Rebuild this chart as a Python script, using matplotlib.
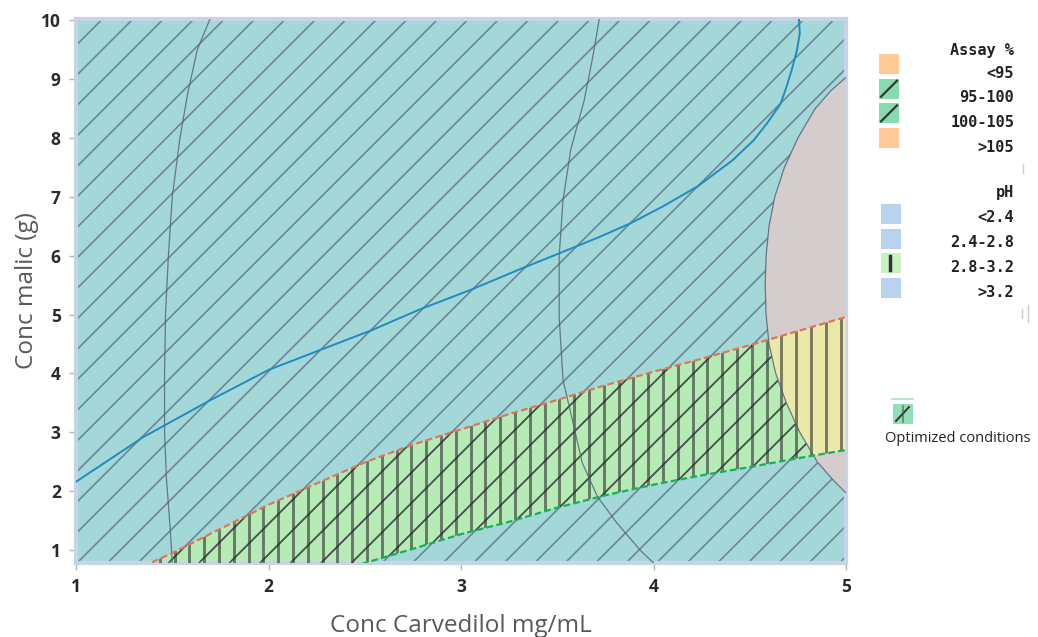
import numpy as np
import matplotlib.pyplot as plt
from matplotlib.patches import Polygon, Rectangle
from matplotlib.collections import LineCollection

# pH 2.8-3.2 band (edges of the design space), malic conc vs carvedilol conc
ph_x = [1.3, 1.5, 1.75, 2.0, 2.25, 2.5, 2.75, 3.0, 3.25, 3.5, 3.75, 4.0, 4.25, 4.5, 4.75, 5.0]
ph_upper = [0.65, 0.95, 1.36, 1.77, 2.13, 2.49, 2.79, 3.05, 3.31, 3.55, 3.80, 4.03, 4.25, 4.48, 4.72, 4.96]
ph_lower = [-0.9, -0.6, -0.25, 0.1, 0.45, 0.78, 1.02, 1.27, 1.48, 1.72, 1.93, 2.11, 2.27, 2.41, 2.56, 2.70]

# assay > 105 region on the right
grey_y = [1.97, 2.2, 2.5, 3.0, 3.5, 4.0, 4.5, 5.0, 5.5, 6.0, 6.5, 7.0, 7.5, 8.0, 8.5, 8.8, 9.03]
grey_x = [5.0, 4.93, 4.85, 4.76, 4.69, 4.635, 4.60, 4.585, 4.58, 4.585, 4.60, 4.63, 4.68, 4.75, 4.84, 4.92, 5.0]

# other contour lines
conA_y = [0.78, 1.34, 2.2, 3.0, 4.0, 5.0, 6.0, 7.0, 8.0, 8.75, 9.5, 10.05]
conA_x = [1.50, 1.49, 1.47, 1.46, 1.46, 1.465, 1.48, 1.50, 1.54, 1.58, 1.63, 1.70]
conB_y = [0.78, 1.0, 1.46, 1.9, 2.48, 3.33, 3.89, 4.96, 6.0, 6.94, 7.8, 8.64, 9.3, 10.05]
conB_x = [4.0, 3.93, 3.81, 3.71, 3.63, 3.57, 3.53, 3.51, 3.51, 3.53, 3.57, 3.64, 3.68, 3.72]
blue_x = [1.0, 1.35, 1.7, 2.0, 2.27, 2.54, 2.78, 3.05, 3.32, 3.51, 3.72, 3.88, 4.05, 4.23,
          4.41, 4.52, 4.59, 4.66, 4.69, 4.72, 4.745, 4.76, 4.755]
blue_y = [2.16, 2.92, 3.55, 4.06, 4.40, 4.74, 5.08, 5.42, 5.79, 6.04, 6.32, 6.55, 6.84, 7.18,
          7.62, 7.96, 8.25, 8.58, 8.86, 9.18, 9.49, 9.78, 10.05]

x_ticks = [1, 2, 3, 4, 5]
y_ticks = [1, 2, 3, 4, 5, 6, 7, 8, 9, 10]

assay_labels = ['<95', '95-100', '100-105', '>105']
ph_labels = ['<2.4', '2.4-2.8', '2.8-3.2', '>3.2']

W, H = 1038, 637
fig = plt.figure(figsize=(W / 100, H / 100), dpi=100)
ax = fig.add_axes([76 / W, (H - 563) / H, 770 / W, 544.5 / H])
xlo, xhi, ylo, yhi = 1.0, 5.0, 0.78, 10.03
ax.set_xlim(xlo, xhi)
ax.set_ylim(ylo, yhi)
ax.set_facecolor('#a4d8d8')

grey_pts = list(zip(grey_x, grey_y)) + [(5.3, 9.03), (5.3, 1.97)]

# pH band (green), drawn under the diagonal hatch
band_pts = list(zip(ph_x, ph_upper)) + list(zip(ph_x[::-1], ph_lower[::-1]))
band = Polygon(band_pts, closed=True, facecolor='#b6ebb6', edgecolor='none', zorder=1)
ax.add_patch(band)

p = ax.transData.transform([(0, 0), (1, 1)])
sx, sy = p[1, 0] - p[0, 0], p[1, 1] - p[0, 1]

# 45 degree hatch lines, 30.5 px apart
c0 = sy * yhi - sx * 1.14
cmin, cmax = sy * ylo - sx * xhi, sy * yhi - sx * xlo
ks = np.arange(np.floor((cmin - c0) / 30.5) - 1, np.ceil((cmax - c0) / 30.5) + 2)
segs = []
for k in ks:
    c = c0 + k * 30.5
    segs.append([((sy * ylo - c) / sx, ylo), ((sy * yhi - c) / sx, yhi)])
diag = LineCollection(segs, colors='#5a6a80', linewidths=1.2, alpha=0.75, zorder=2)
ax.add_collection(diag)

# grey region covers the hatch
ax.add_patch(Polygon(grey_pts, closed=True, facecolor='#d5cdcd', edgecolor='none', zorder=3))

# hatch shows darker over the green band
diag_band = LineCollection(segs, colors='#3b4238', linewidths=1.2, alpha=0.8, zorder=3.05)
ax.add_collection(diag_band)
diag_band.set_clip_path(band)

# part of the band inside the grey region is yellow, no diagonal hatch
yellow = Polygon(grey_pts, closed=True, facecolor='#ece8aa', edgecolor='none', zorder=3.1)
ax.add_patch(yellow)
yellow.set_clip_path(band)

# vertical hatch inside the pH band
vx = np.arange(1.973 - 60 * 14.8 / sx, xhi + 0.1, 14.8 / sx)
vsegs = [[(v, ylo - 1), (v, yhi)] for v in vx]
vert = LineCollection(vsegs, colors='#2e2e2e', linewidths=2.1, alpha=0.6, zorder=3.5)
ax.add_collection(vert)
vert.set_clip_path(band)

# contour lines
for cx, cy in [(conA_x, conA_y), (conB_x, conB_y), (grey_x, grey_y)]:
    ax.plot(cx, cy, color='#566677', lw=0.9, alpha=0.85, zorder=4)
ax.plot(ph_x, ph_upper, color='#e07558', lw=1.6, dashes=(3, 1.5), zorder=4.5)
ax.plot(ph_x, ph_lower, color='#14b05a', lw=1.6, dashes=(3, 1.5), zorder=4.5)
ax.plot(blue_x, blue_y, color='#1e8cbe', lw=1.4, zorder=5)

for s in ax.spines.values():
    s.set_color('#c6d3e8')
    s.set_linewidth(3)
ax.set_xticks(x_ticks)
ax.set_yticks(y_ticks)
ax.tick_params(length=5, width=1, color='#aab6c6', pad=6, labelsize=12.5, labelcolor='#2a2a2a')
for lab in ax.get_xticklabels() + ax.get_yticklabels():
    lab.set_fontfamily('Open Sans')
    lab.set_fontweight('bold')
ax.set_xlabel('Conc Carvedilol mg/mL', fontsize=17.5, family='Open Sans', color='#595959', labelpad=13)
ax.set_ylabel('Conc malic (g)', fontsize=17.5, family='Open Sans', color='#595959', labelpad=1)

# legend panel in pixel coordinates
leg = fig.add_axes([0, 0, 1, 1])
leg.set_xlim(0, W)
leg.set_ylim(H, 0)
leg.axis('off')
leg.patch.set_alpha(0)

mono = dict(family='DejaVu Sans Mono', weight='bold', fontsize=11, color='#222222', ha='right', va='center')
leg.text(1014, 50, 'Assay %', **mono)
assay_cols = ['#ffc998', '#86dcae', '#86dcae', '#ffc998']
for i, (lab, col) in enumerate(zip(assay_labels, assay_cols)):
    ty = 73 + i * 24.7
    py = ty - 9
    leg.add_patch(Rectangle((879, py - 10), 20, 20, facecolor=col, edgecolor='none'))
    if lab in ('95-100', '100-105'):
        leg.plot([881, 897], [py + 8, py - 8], color='#333333', lw=1.6)
    leg.text(1014, ty, lab, **mono)

leg.text(1014, 193, 'pH', **mono)
ph_cols = ['#b9d2ee', '#b9d2ee', '#c8f2c0', '#b9d2ee']
for i, (lab, col) in enumerate(zip(ph_labels, ph_cols)):
    ty = 218 + i * 24.7
    py = ty - 4
    leg.add_patch(Rectangle((881, py - 10), 20, 20, facecolor=col, edgecolor='none'))
    if lab == '2.8-3.2':
        leg.plot([890, 890], [py - 7, py + 7], color='#333333', lw=2.5)
    leg.text(1014, ty, lab, **mono)

leg.plot([1023, 1023], [164, 173], color='#cccccc', lw=1)
leg.plot([1022, 1022], [309, 318], color='#cccccc', lw=1)
leg.plot([1028, 1028], [305, 322], color='#cccccc', lw=1)

# optimized conditions key
leg.plot([892, 913], [399, 399], color='#a8e4c0', lw=1.2)
leg.add_patch(Rectangle((893, 404), 20, 20, facecolor='#8fe0b4', edgecolor='none'))
leg.plot([896, 909], [421, 407], color='#333333', lw=1.4)
leg.plot([903, 903], [406, 422], color='#555555', lw=1.2, alpha=0.7)
leg.text(885, 438, 'Optimized conditions', family='Open Sans', fontsize=10.5, color='#222222',
         ha='left', va='center')

fig.savefig('out.png', dpi=100)
